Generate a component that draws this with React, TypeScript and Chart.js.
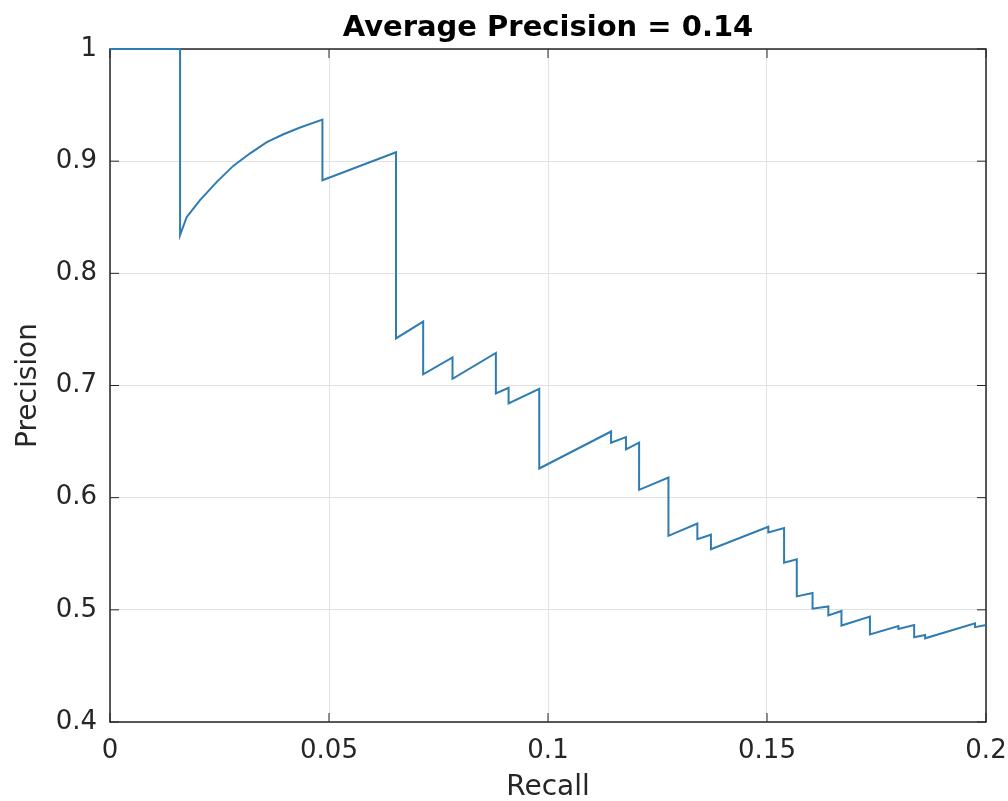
import React, { useEffect, useRef } from "react";
import { Chart, registerables } from "chart.js";

Chart.register(...registerables);

const recall = [
  0, 0.016, 0.016, 0.0175, 0.0205, 0.0245, 0.0282, 0.032, 0.0358, 0.0396, 0.0434, 0.0485,
  0.0485, 0.0653, 0.0653, 0.0715, 0.0715, 0.0782, 0.0782, 0.0881, 0.0881, 0.091, 0.091,
  0.098, 0.098, 0.1144, 0.1144, 0.1178, 0.1178, 0.1208, 0.1208, 0.1275, 0.1275, 0.1341,
  0.1341, 0.1372, 0.1372, 0.1503, 0.1503, 0.1539, 0.1539, 0.1568, 0.1568, 0.1604, 0.1604,
  0.164, 0.164, 0.167, 0.167, 0.1735, 0.1735, 0.18, 0.18, 0.1836, 0.1836, 0.1861, 0.1861,
  0.1975, 0.1975, 0.2,
];
const precision = [
  1, 1, 0.834, 0.85, 0.865, 0.882, 0.896, 0.907, 0.917, 0.924, 0.93, 0.937,
  0.883, 0.908, 0.742, 0.757, 0.71, 0.725, 0.706, 0.729, 0.693, 0.698, 0.684,
  0.697, 0.626, 0.659, 0.649, 0.654, 0.643, 0.649, 0.607, 0.618, 0.566, 0.577,
  0.563, 0.567, 0.554, 0.574, 0.569, 0.573, 0.542, 0.545, 0.512, 0.515, 0.501,
  0.503, 0.495, 0.499, 0.486, 0.494, 0.478, 0.4856, 0.483, 0.4865, 0.4755, 0.4776, 0.4746,
  0.488, 0.4846, 0.4865,
];

const xTicks = [0, 0.05, 0.1, 0.15, 0.2];
const xTickLabels = ["0", "0.05", "0.1", "0.15", "0.2"];
const yTicks = [0.4, 0.5, 0.6, 0.7, 0.8, 0.9, 1];
const yTickLabels = ["0.4", "0.5", "0.6", "0.7", "0.8", "0.9", "1"];
const titleText = "Average Precision = 0.14";
const xTitle = "Recall";
const yTitle = "Precision";

const FONT = "'DejaVu Sans', sans-serif";
const AXIS = "#262626";
const LINE = "#2f7cb3";
const GRID = "#e2e2e2";

const boxPlugin = {
  id: "matlabBox",
  beforeDatasetsDraw(chart: any) {
    const { ctx, chartArea: a, scales } = chart;
    ctx.save();
    ctx.strokeStyle = AXIS;
    ctx.lineWidth = 1.5;
    ctx.strokeRect(a.left, a.top, a.right - a.left, a.bottom - a.top);
    const L = 9;
    ctx.lineWidth = 1;
    ctx.beginPath();
    xTicks.forEach((v) => {
      const px = scales.x.getPixelForValue(v);
      ctx.moveTo(px, a.bottom);
      ctx.lineTo(px, a.bottom - L);
      ctx.moveTo(px, a.top);
      ctx.lineTo(px, a.top + L);
    });
    yTicks.forEach((v) => {
      const py = scales.y.getPixelForValue(v);
      ctx.moveTo(a.left, py);
      ctx.lineTo(a.left + L, py);
      ctx.moveTo(a.right, py);
      ctx.lineTo(a.right - L, py);
    });
    ctx.stroke();
    ctx.restore();
  },
};

export default function App() {
  const ref = useRef<HTMLCanvasElement | null>(null);

  useEffect(() => {
    if (!ref.current) return;
    const data = recall.map((r, i) => ({ x: r, y: precision[i] }));
    const chart = new Chart(ref.current, {
      type: "scatter",
      data: {
        datasets: [
          {
            data,
            showLine: true,
            borderColor: LINE,
            backgroundColor: LINE,
            borderWidth: 2,
            pointRadius: 0,
            tension: 0,
            clip: false,
          },
        ],
      },
      options: {
        responsive: false,
        animation: false,
        layout: { padding: { left: 0, right: 22, top: 0, bottom: 0 } },
        plugins: {
          legend: { display: false },
          tooltip: { enabled: false },
          title: {
            display: true,
            text: titleText,
            fullSize: false,
            color: "#000",
            font: { family: FONT, size: 29, weight: "bold", lineHeight: 1.2 },
            padding: { top: 11, bottom: 3.2 },
          },
        },
        scales: {
          x: {
            type: "linear",
            min: 0,
            max: 0.2,
            afterBuildTicks: (s: any) => {
              s.ticks = xTicks.map((v) => ({ value: v }));
            },
            afterFit: (s: any) => {
              s.height = 79;
              s.paddingLeft = 0;
              s.paddingRight = 0;
            },
            ticks: {
              callback: (_v: any, i: number) => xTickLabels[i],
              color: AXIS,
              font: { family: FONT, size: 26 },
              padding: 14,
              maxRotation: 0,
            },
            grid: { color: GRID, drawTicks: false, lineWidth: 1 },
            border: { display: false },
            title: {
              display: true,
              text: xTitle,
              color: AXIS,
              font: { family: FONT, size: 28, lineHeight: 1.2 },
              padding: { top: 0, bottom: -4 },
            },
          },
          y: {
            type: "linear",
            min: 0.4,
            max: 1,
            afterBuildTicks: (s: any) => {
              s.ticks = yTicks.map((v) => ({ value: v }));
            },
            afterFit: (s: any) => {
              s.width = 110;
              s.paddingTop = 0;
              s.paddingBottom = 0;
            },
            ticks: {
              callback: (_v: any, i: number) => yTickLabels[i],
              color: AXIS,
              font: { family: FONT, size: 26 },
              padding: 13,
            },
            grid: { color: GRID, drawTicks: false, lineWidth: 1 },
            border: { display: false },
            title: {
              display: true,
              text: yTitle,
              color: AXIS,
              font: { family: FONT, size: 28, lineHeight: 1.2 },
              padding: { top: 12, bottom: 0 },
            },
          },
        },
      },
      plugins: [boxPlugin],
    });
    return () => chart.destroy();
  }, []);

  return (
    <div style={{ position: "absolute", left: 0, top: 0, width: 1008, height: 801 }}>
      <canvas ref={ref} width={1008} height={801} style={{ display: "block" }} />
    </div>
  );
}
